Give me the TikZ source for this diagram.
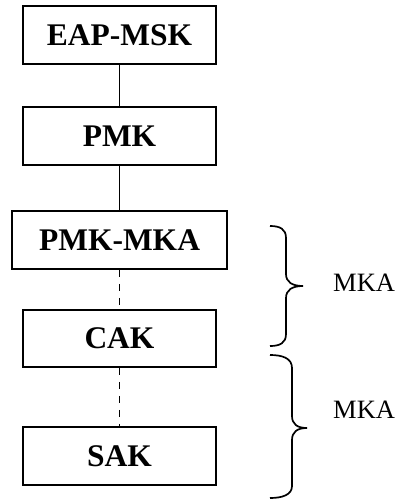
\documentclass[tikz,border=0pt]{standalone}
\usepackage{fontspec}
\setmainfont{Liberation Serif}
\begin{document}
\begin{tikzpicture}[x=1pt,y=-1pt,
  keybox/.style={draw,line width=1.9pt,minimum width=193pt,minimum height=58pt,inner sep=0pt,font=\fontsize{31.5}{34}\selectfont\bfseries},
  link/.style={line width=1.6pt},
  dlink/.style={line width=1.6pt,dash pattern=on 7pt off 7pt},
  bracestyle/.style={line width=1.7pt},
  lbl/.style={font=\fontsize{26.5}{30}\selectfont,inner sep=0pt}]
\useasboundingbox (0,0) rectangle (407,500);
\node[keybox] (eap) at (119.5,35) {EAP-MSK};
\node[keybox] (pmk) at (119.5,136) {PMK};
\node[keybox,minimum width=215pt] (pmkmka) at (119.5,240) {PMK-MKA};
\node[keybox,minimum height=57pt] (cak) at (119.5,338.5) {CAK};
\node[keybox] (sak) at (119.5,456) {SAK};
\draw[link] (eap) -- (pmk);
\draw[link] (pmk) -- (pmkmka);
\draw[dlink] (pmkmka) -- (cak);
\draw[dlink] (cak) -- (sak);
\coordinate (b1) at (303,286);
\coordinate (b2) at (307,428);
\draw[bracestyle] (270,226) .. controls (280,226) and (286,229) .. (286,238) -- (286,274)
  .. controls (286,282) and (292,286) .. (b1)
  .. controls (292,286) and (286,290) .. (286,298) -- (286,334)
  .. controls (286,343) and (280,346) .. (270,346);
\draw[bracestyle] (270,355) .. controls (282,355) and (292,358) .. (292,368) -- (292,416)
  .. controls (292,424) and (297,428) .. (b2)
  .. controls (297,428) and (292,432) .. (292,440) -- (292,486)
  .. controls (292,495) and (282,498) .. (270,498);
\node[lbl,anchor=west] (m1) at (333,283) {MKA};
\node[lbl,anchor=west] (m2) at (333,410) {MKA};
\end{tikzpicture}
\end{document}
